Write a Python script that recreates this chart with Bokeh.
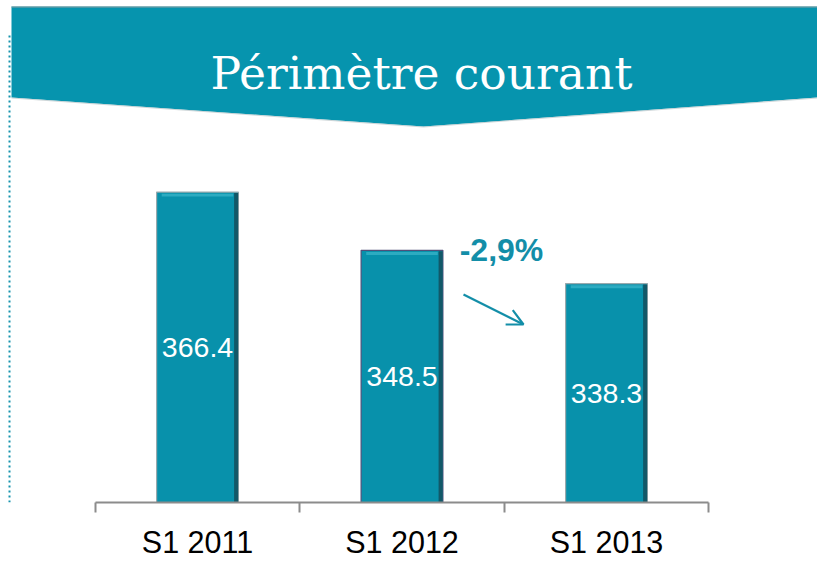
from bokeh.plotting import figure
from bokeh.models import Range1d, FixedTicker, LinearAxis, Arrow, OpenHead
from bokeh.core.properties import value
from bokeh.embed import file_html
from bokeh.resources import INLINE

# ---- data ----
categories = ["S1 2011", "S1 2012", "S1 2013"]
positions = [0, 1, 2]
values = [366.4, 348.5, 338.3]
value_labels = ["366.4", "348.5", "338.3"]
change_label = "-2,9%"
title_text = "Périmètre courant"

Y0 = 271.1
W, H = 817, 578
BAR_W = 0.40

p = figure(width=W, height=H, output_backend="svg", toolbar_location=None,
           x_range=Range1d(-0.9633, 3.0318), y_range=Range1d(Y0, 425.2),
           min_border_left=0, min_border_right=0, min_border_top=0,
           min_border_bottom=76, x_axis_location=None, y_axis_location=None,
           background_fill_color="white", border_fill_color="white")
p.outline_line_color = None
p.grid.visible = False

# pixel coordinate ranges for decorations
p.extra_x_ranges = {"px": Range1d(0, 817)}
p.extra_y_ranges = {"py": Range1d(502, 0)}

# banner
p.patch(x=[11, 817, 817, 423, 11], y=[6, 6, 97, 126, 97],
        x_range_name="px", y_range_name="py",
        fill_color="#0694ae", line_color=None)
p.line(x=[11, 817], y=[6.5, 6.5], x_range_name="px", y_range_name="py",
       line_color="#8a9ea3", line_width=1)
p.line(x=[11, 423, 817], y=[97.5, 126.5, 97.5], x_range_name="px", y_range_name="py",
       line_color="#b9c4c7", line_width=1, line_alpha=0.7)
p.text(x=[421], y=[73], text=[title_text], x_range_name="px", y_range_name="py",
       text_font=value("DejaVu Serif"), text_font_size="45.5px",
       text_color="white", text_align="center", text_baseline="alphabetic")

# bars (with simple bevel shading)
p.vbar(x=positions, top=values, bottom=Y0, width=BAR_W,
       fill_color="#0891ab", line_color=["#9aa9ad", "#50507a", "#9aa9ad"], line_width=1.2)
p.vbar(x=[x + BAR_W / 2 - 0.011 for x in positions], top=[v - 0.3 for v in values],
       bottom=Y0, width=0.02, fill_color="#125868", line_color=None)
p.vbar(x=positions, top=[v - 0.5 for v in values], bottom=[v - 1.4 for v in values],
       width=BAR_W - 0.05, fill_color="#36b2c7", line_color=None, fill_alpha=0.8)

mid = [(v + Y0) / 2 for v in values]
p.text(x=positions, y=mid, text=value_labels,
       text_font=value("Liberation Sans"), text_font_size="28.5px",
       text_color="white", text_align="center", text_baseline="middle")

# change annotation
p.text(x=[501], y=[249], text=[change_label], x_range_name="px", y_range_name="py",
       text_font=value("Liberation Sans"), text_font_style="bold",
       text_font_size="32px", text_color="#138ea8",
       text_align="center", text_baseline="middle")
p.add_layout(Arrow(x_start=463, y_start=294, x_end=523, y_end=324,
                   x_range_name="px", y_range_name="py",
                   line_color="#138ea8", line_width=2.2,
                   end=OpenHead(size=16, line_color="#138ea8", line_width=2.2)))

# dotted left rule
p.add_layout(Arrow(x_start=9, y_start=35, x_end=9, y_end=580,
                   x_range_name="px", y_range_name="py", end=None,
                   line_color="#1593ad", line_width=2, line_dash="2 3"))

# x axis
ax = LinearAxis(ticker=FixedTicker(ticks=positions, minor_ticks=[-0.5, 0.5, 1.5, 2.5]),
                bounds=(-0.5, 2.5))
ax.major_label_overrides = {i: c for i, c in zip(positions, categories)}
ax.major_tick_line_color = None
ax.major_tick_out = 10
ax.major_tick_in = 0
ax.minor_tick_line_color = "#8c8c8c"
ax.minor_tick_line_width = 2
ax.minor_tick_out = 10
ax.minor_tick_in = 0
ax.axis_line_color = "#8c8c8c"
ax.axis_line_width = 2
ax.major_label_standoff = 12
ax.major_label_text_font = "Liberation Sans"
ax.major_label_text_font_size = "30.5px"
ax.major_label_text_color = "black"
p.add_layout(ax, "below")

open("out.html", "w").write(file_html(p, INLINE))
